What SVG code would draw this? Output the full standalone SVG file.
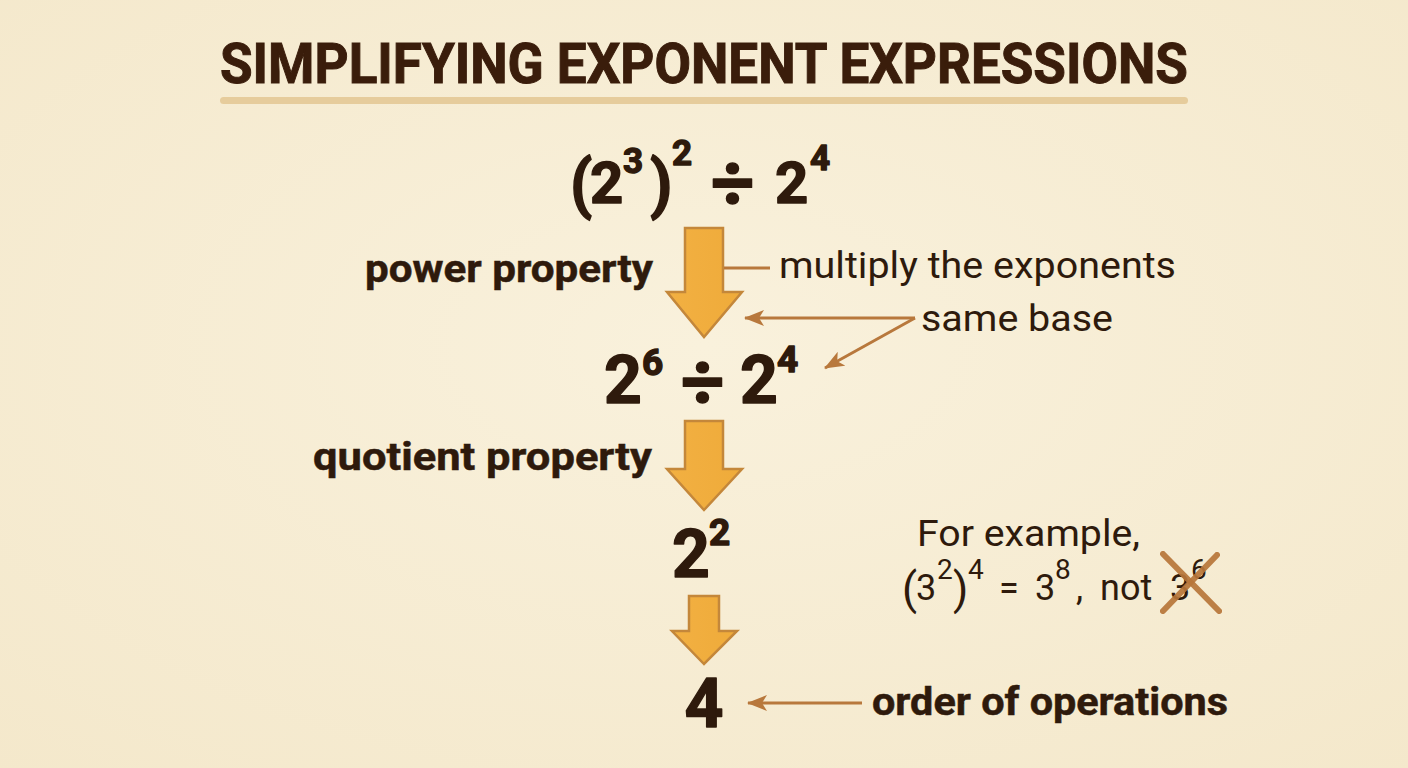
<svg xmlns="http://www.w3.org/2000/svg" width="1408" height="768" viewBox="0 0 1408 768">
<defs>
<radialGradient id="bg" cx="50%" cy="45%" r="75%">
<stop offset="0" stop-color="#f9f1dc"/>
<stop offset="1" stop-color="#f4e8cb"/>
</radialGradient>
<linearGradient id="arrowFill" x1="0" y1="0" x2="1" y2="0">
<stop offset="0" stop-color="#f2b042"/>
<stop offset="1" stop-color="#efab3a"/>
</linearGradient>
<marker id="head" viewBox="0 0 20 16" refX="19" refY="8" markerWidth="20" markerHeight="16" markerUnits="userSpaceOnUse" orient="auto">
<path d="M0,0 L20,8 L0,16 L5,8 Z" fill="#b8783c"/>
</marker>
<style>
.title{font-family:Roboto,"Liberation Sans",sans-serif;font-weight:700;fill:#3a1d0b;stroke:#3a1d0b;stroke-width:1;}
.math{font-family:Roboto,"Liberation Sans",sans-serif;font-weight:700;fill:#2e1a0c;stroke:#2e1a0c;stroke-width:1.4;stroke-linejoin:round;}
.lbl{font-family:Roboto,"Liberation Sans",sans-serif;font-weight:700;fill:#2e1a0c;font-size:38px;stroke:#2e1a0c;stroke-width:0.5;}
.note{font-family:Roboto,"Liberation Sans",sans-serif;font-weight:400;fill:#2e1a0c;font-size:36px;}
.blk{fill:url(#arrowFill);stroke:#c4873a;stroke-width:2.5;stroke-linejoin:miter;}
.conn{stroke:#b8783c;stroke-width:3;fill:none;}
.cross{stroke:#b8763a;stroke-width:6;stroke-linecap:round;opacity:0.92;}
</style>
</defs>
<rect width="1408" height="768" fill="url(#bg)"/>

<g id="title">
<text class="title" x="220" y="83" font-size="56" textLength="968" lengthAdjust="spacingAndGlyphs">SIMPLIFYING EXPONENT EXPRESSIONS</text>
<rect x="220" y="97" width="968" height="7" rx="3.5" fill="#e6cc9c"/>
</g>

<g id="expr1">
<text class="math" font-size="58">
<tspan x="570" y="206" font-size="64">(</tspan><tspan x="590" y="203">2</tspan><tspan x="623" y="173" font-size="35">3</tspan><tspan x="650" y="206" font-size="64">)</tspan><tspan x="672" y="165" font-size="35">2</tspan><tspan x="711" y="209" font-size="76">÷</tspan><tspan x="775" y="203">2</tspan><tspan x="810" y="170" font-size="35">4</tspan>
</text>
</g>

<g id="arrow1">
<path class="blk" d="M685,228 H723 V292 H742 L704,337 L667,292 H685 Z"/>
</g>

<g id="label-power">
<text class="lbl" x="365" y="282" textLength="288" lengthAdjust="spacingAndGlyphs">power property</text>
</g>

<g id="note-multiply">
<text class="note" x="779" y="278" textLength="397" lengthAdjust="spacingAndGlyphs">multiply the exponents</text>
</g>

<g id="note-samebase">
<text class="note" x="921" y="331" textLength="192" lengthAdjust="spacingAndGlyphs">same base</text>
</g>

<g id="expr2">
<text class="math" font-size="66">
<tspan x="604" y="403">2</tspan><tspan x="642" y="375" font-size="37">6</tspan><tspan x="681" y="408" font-size="76">÷</tspan><tspan x="740" y="403">2</tspan><tspan x="777" y="372" font-size="37">4</tspan>
</text>
</g>

<g id="arrow2">
<path class="blk" d="M685,421 H723 V469 H742 L704,510 L667,469 H685 Z"/>
</g>

<g id="label-quotient">
<text class="lbl" x="313" y="470" textLength="339" lengthAdjust="spacingAndGlyphs">quotient property</text>
</g>

<g id="expr3">
<text class="math" font-size="66">
<tspan x="672" y="577">2</tspan><tspan x="709" y="545" font-size="37">2</tspan>
</text>
</g>

<g id="arrow3">
<path class="blk" d="M689,596 H719 V631 H737 L704,664 L672,631 H689 Z"/>
</g>

<g id="expr4">
<text class="math" x="704" y="727" font-size="68" text-anchor="middle">4</text>
</g>

<g id="label-order">
<text class="lbl" x="872" y="715" textLength="356" lengthAdjust="spacingAndGlyphs">order of operations</text>
</g>

<g id="example">
<text class="note" x="917" y="546" textLength="223" lengthAdjust="spacingAndGlyphs">For example,</text>
<text class="note" font-size="42">
<tspan x="902" y="604" font-size="44">(</tspan><tspan x="916" y="600">3</tspan><tspan x="937" y="579" font-size="28">2</tspan><tspan x="953" y="604" font-size="44">)</tspan><tspan x="968" y="579" font-size="28">4</tspan><tspan x="999" y="600">=</tspan><tspan x="1035" y="600">3</tspan><tspan x="1055" y="579" font-size="28">8</tspan><tspan x="1076" y="600">,</tspan><tspan x="1100" y="600">not</tspan><tspan x="1170" y="600">3</tspan><tspan x="1191" y="579" font-size="28">6</tspan>
</text>
<g id="cross">
<line class="cross" x1="1163" y1="554" x2="1219" y2="611"/>
<line class="cross" x1="1217" y1="555" x2="1163" y2="611"/>
</g>
</g>

<g id="connectors">
<line class="conn" x1="724" y1="268" x2="770" y2="268"/>
<line class="conn" x1="915" y1="318" x2="745" y2="318" marker-end="url(#head)"/>
<line class="conn" x1="915" y1="318" x2="825" y2="368" marker-end="url(#head)"/>
<line class="conn" x1="862" y1="703" x2="748" y2="703" marker-end="url(#head)"/>
</g>
</svg>
